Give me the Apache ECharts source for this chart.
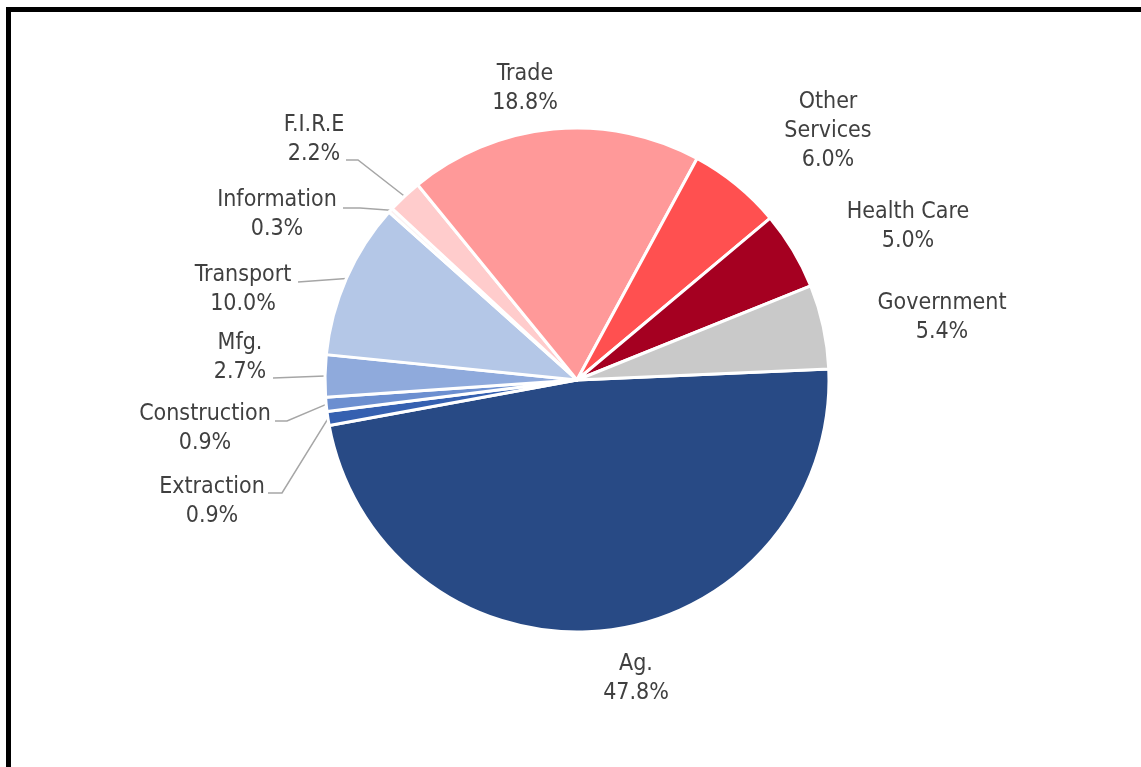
<!DOCTYPE html>
<html>
<head>
<meta charset="utf-8">
<script src="https://cdn.jsdelivr.net/npm/echarts@6/dist/echarts.min.js"></script>
<style>
  html, body { margin: 0; padding: 0; background: #fff; overflow: hidden; }
  #chart { width: 1141px; height: 767px; position: absolute; left: 0; top: 0; }
  #frame { position: absolute; left: 6px; top: 7px; width: 1200px; height: 900px;
           border-top: 5px solid #000; border-left: 5px solid #000; pointer-events: none; }
</style>
</head>
<body>
<div id="chart"></div>
<div id="frame"></div>
<script>
// ---- data ----
const categories = ['Ag.', 'Extraction', 'Construction', 'Mfg.', 'Transport', 'Information',
                    'F.I.R.E', 'Trade', 'Other Services', 'Health Care', 'Government'];
const shares = [47.8, 0.9, 0.9, 2.7, 10.0, 0.3, 2.2, 18.8, 6.0, 5.0, 5.4];
const labelText = ['Ag.', 'Extraction', 'Construction', 'Mfg.', 'Transport', 'Information',
                   'F.I.R.E', 'Trade', 'Other\nServices', 'Health Care', 'Government'];

// ---- style / layout ----
const colors = ['#284A85', '#3560B0', '#6C8FD0', '#8FAADC', '#B4C7E7', '#FCF2F2',
                '#FFCCCC', '#FF9999', '#FF5050', '#A50021', '#C9C9C9'];
// label block centres (px)
const labelCenter = [[636, 679], [212, 502], [205, 429], [240, 358], [243, 290], [277, 215],
                     [314, 140], [525, 89], [828, 131], [908, 227], [942, 318]];
// leader line: elbow and end points (null = no leader line)
const leader = [null,
  [[282, 493], [268, 493]],
  [[287, 421], [275, 421]],
  [[273, 378]],
  [[298, 282]],
  [[360, 208], [343, 208]],
  [[358, 160], [346, 160]],
  null, null, null, null];

const chart = echarts.init(document.getElementById('chart'), null, { renderer: 'canvas' });
const FONT = "'DejaVu Sans Condensed', 'Liberation Sans', Arial, sans-serif";

const data = categories.map((c, i) => ({
  name: c,
  value: shares[i],
  itemStyle: { color: colors[i] },
  labelLine: { show: leader[i] !== null }
}));

chart.setOption({
  animation: false,
  backgroundColor: '#ffffff',
  series: [{
    type: 'pie',
    center: [577, 380],
    radius: [0, 252],
    startAngle: 2.5,
    clockwise: true,
    avoidLabelOverlap: false,
    data: data,
    itemStyle: { borderColor: '#ffffff', borderWidth: 3 },
    label: {
      show: true,
      position: 'outside',
      formatter: p => labelText[p.dataIndex] + '\n' + p.value.toFixed(1) + '%',
      fontFamily: FONT,
      fontSize: 23,
      lineHeight: 29,
      color: '#404040',
      align: 'center'
    },
    labelLine: {
      show: true,
      length: 10,
      length2: 10,
      lineStyle: { color: '#A6A6A6', width: 1.5 }
    },
    labelLayout: function (params) {
      const i = params.dataIndex;
      const res = {
        x: labelCenter[i][0],
        y: labelCenter[i][1],
        align: 'center',
        verticalAlign: 'middle'
      };
      if (leader[i] && params.labelLinePoints) {
        const start = params.labelLinePoints[0];
        const pts = [[start[0], start[1]]].concat(leader[i]);
        res.labelLinePoints = pts.reverse();
      }
      return res;
    }
  }]
});
</script>
</body>
</html>
